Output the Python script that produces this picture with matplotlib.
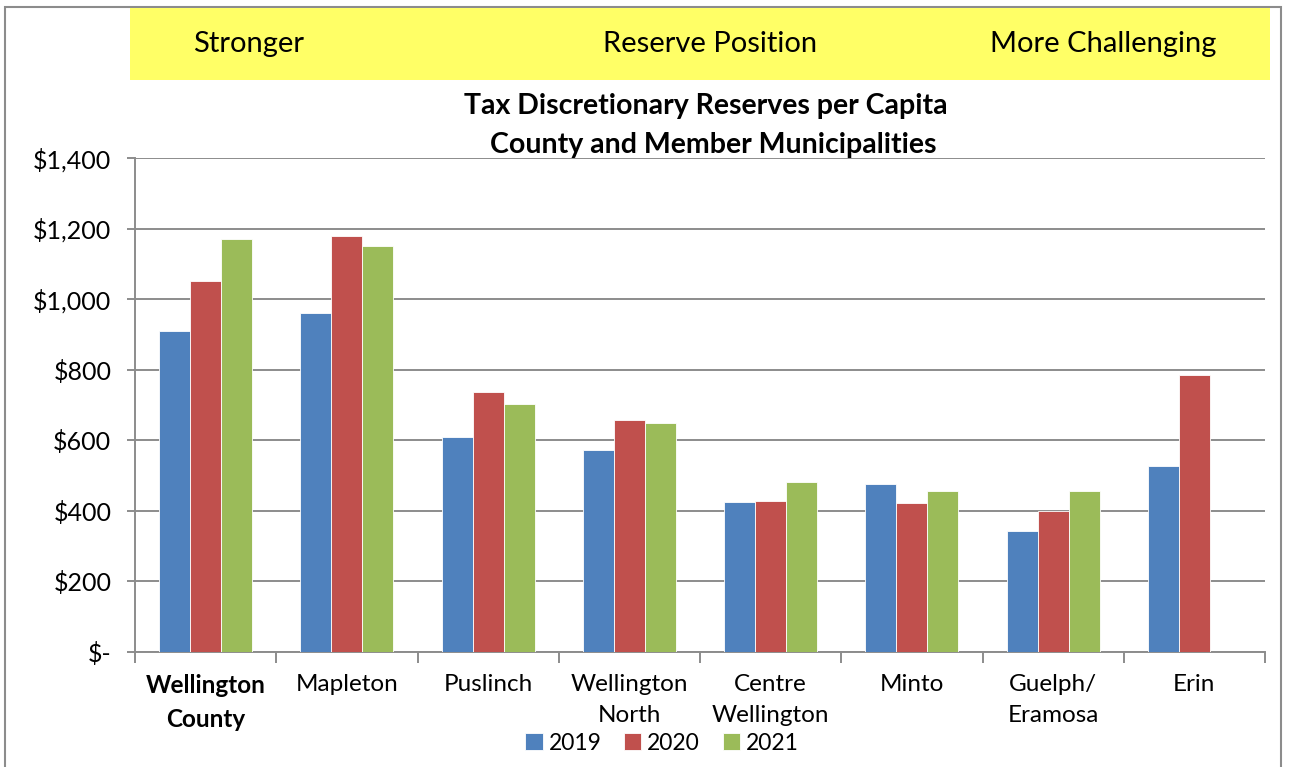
import matplotlib
matplotlib.use("Agg")
import matplotlib.pyplot as plt
from matplotlib.patches import Rectangle
import numpy as np

categories = ["Wellington\nCounty", "Mapleton", "Puslinch", "Wellington\nNorth",
              "Centre\nWellington", "Minto", "Guelph/\nEramosa", "Erin"]
years = ["2019", "2020", "2021"]
v2019 = [910, 961, 609, 572, 425, 476, 343, 527]
v2020 = [1051, 1179, 737, 657, 428, 422, 400, 785]
v2021 = [1170, 1150, 703, 649, 482, 456, 456, np.nan]
colors = ["#4F81BD", "#C0504D", "#9BBB59"]
yticks = [0, 200, 400, 600, 800, 1000, 1200, 1400]
ytick_labels = ["$-", "$200", "$400", "$600", "$800", "$1,000", "$1,200", "$1,400"]

plt.rcParams['font.family'] = ['Lato', 'DejaVu Sans']

fig = plt.figure(figsize=(12.96, 7.67), dpi=100)

# outer border
fig.patches.append(Rectangle((5/1296, -0.01), (1281-5)/1296, 1 - 7/767 + 0.01,
                             transform=fig.transFigure, fill=False,
                             edgecolor="#8c8c8c", linewidth=1.5))
# yellow banner
fig.patches.append(Rectangle((130/1296, 1 - 80/767), (1270-130)/1296, (80-8)/767,
                             transform=fig.transFigure, facecolor="#FFFF66",
                             edgecolor="none"))
for txt, xc in [("Stronger", 249), ("Reserve Position", 710), ("More Challenging", 1103)]:
    fig.text(xc/1296, 1 - 44/767, txt, ha="center", va="center", fontsize=21)

fig.text(706/1296, 1 - 106/767, "Tax Discretionary Reserves per Capita",
         ha="center", va="center", fontsize=20.5, fontweight="bold")
fig.text(713/1296, 1 - 145/767, "County and Member Municipalities",
         ha="center", va="center", fontsize=20.5, fontweight="bold")

ax = fig.add_axes([135/1296, 1 - 652/767, (1265-135)/1296, (652-158)/767])
x = np.arange(len(categories))
w = 0.22
series = [v2019, v2020, v2021]
for i, (vals, c, yr) in enumerate(zip(series, colors, years)):
    ax.bar(x + (i - 1) * w, vals, width=w, color=c, label=yr,
           edgecolor="white", linewidth=0.6, zorder=3)

ax.set_xlim(-0.5, len(categories) - 0.5)
ax.set_ylim(0, 1400)
ax.set_yticks(yticks)
ax.set_yticklabels(ytick_labels, fontsize=18)
ax.yaxis.grid(True, color="#8c8c8c", linewidth=1.4, zorder=0)
ax.set_axisbelow(True)
ax.tick_params(axis="y", length=6, color="#8c8c8c", width=1.4, pad=11)

ax.set_xticks(np.arange(len(categories) + 1) - 0.5)
ax.set_xticklabels([])
ax.tick_params(axis="x", length=8, color="#8c8c8c", width=1.4)
for xi, lab in zip(x, categories):
    ax.text(xi, -0.044, lab, transform=ax.get_xaxis_transform(), ha="center",
            va="top", fontsize=17.5, linespacing=1.6,
            fontweight="bold" if xi == 0 else "normal")

for s in ["top", "right"]:
    ax.spines[s].set_visible(False)
for s in ["left", "bottom"]:
    ax.spines[s].set_color("#8c8c8c")
    ax.spines[s].set_linewidth(1.4)

leg = fig.legend(loc="center", bbox_to_anchor=(662/1296, 1 - 743/767), ncol=3,
                 frameon=False, fontsize=16.5, handlelength=0.75, handleheight=0.75,
                 handletextpad=0.25, columnspacing=1.0, borderpad=0)

fig.savefig("out.png", dpi=100)
